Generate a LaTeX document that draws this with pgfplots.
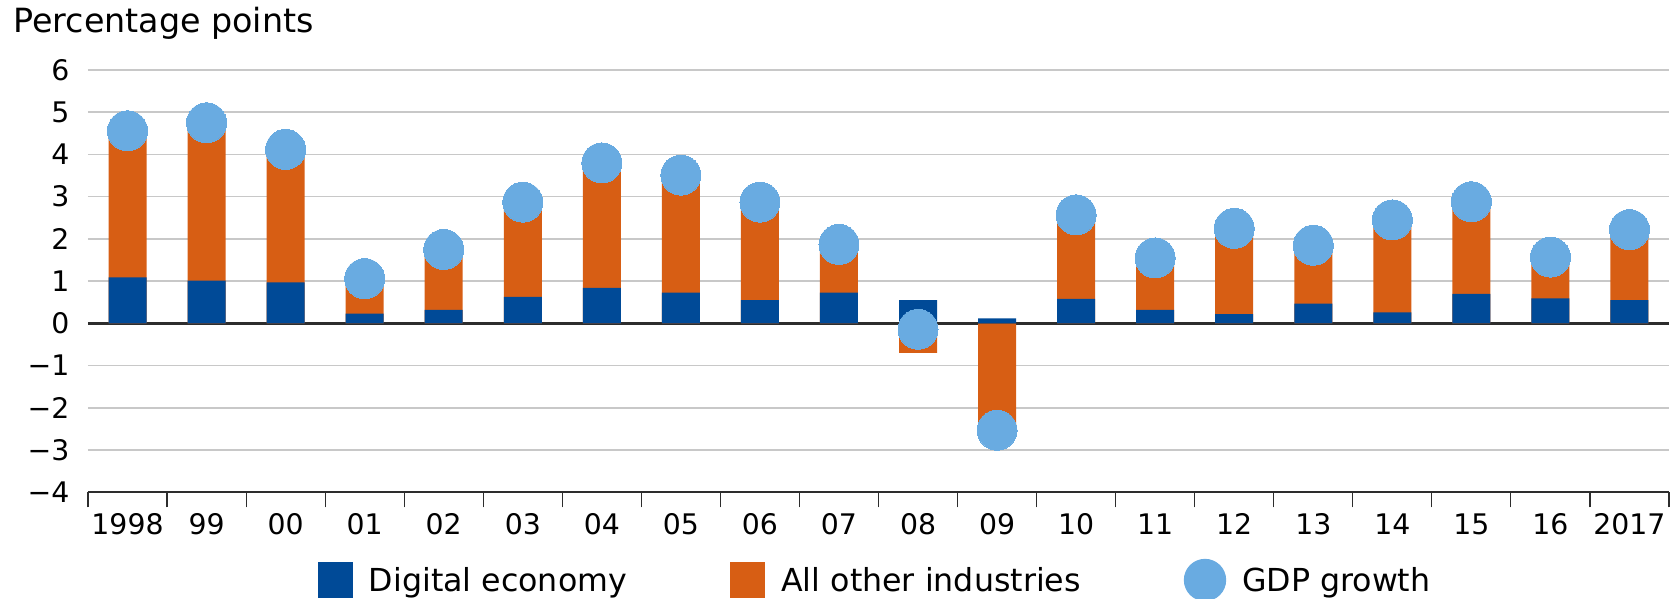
\documentclass[border=0pt]{standalone}
\usepackage{fontspec}
\setmainfont{DejaVu Sans}
\usepackage{pgfplots}
\usepackage{pgfplotstable}
\pgfplotsset{compat=1.18}
\definecolor{digblue}{RGB}{0,74,151}
\definecolor{othorange}{RGB}{215,94,20}
\definecolor{gdpblue}{RGB}{105,171,225}
\definecolor{gridgray}{RGB}{200,200,200}
\definecolor{axisdark}{RGB}{45,45,45}
\pgfplotstableread{
x dig oth gdp
0 1.09 3.47 4.56
1 1.01 3.74 4.75
2 0.97 3.15 4.12
3 0.23 0.83 1.06
4 0.32 1.43 1.75
5 0.63 2.24 2.87
6 0.84 2.96 3.80
7 0.73 2.78 3.51
8 0.55 2.32 2.87
9 0.73 1.14 1.87
10 0.55 -0.70 -0.14
11 0.12 -2.65 -2.53
12 0.58 1.99 2.57
13 0.32 1.23 1.55
14 0.22 2.03 2.25
15 0.47 1.38 1.85
16 0.26 2.19 2.45
17 0.70 2.18 2.88
18 0.59 0.98 1.57
19 0.55 1.67 2.22
}\datatable
\begin{document}
\begin{tikzpicture}
\useasboundingbox (0,0) rectangle (503.1pt,179.4pt);
\begin{axis}[
  at={(26.4pt,31.71pt)}, anchor=south west,
  scale only axis, width=474.3pt, height=126.69pt,
  xmin=-0.5, xmax=19.5, ymin=-4, ymax=6,
  axis line style={draw=none},
  ytick={-4,-3,...,6},
  yticklabels={−4,−3,−2,−1,0,1,2,3,4,5,6},
  ymajorgrids,
  grid style={draw=gridgray, line width=0.45pt},
  extra y ticks={-4,0},
  extra y tick labels={},
  extra y tick style={grid style={draw=axisdark, line width=0.7pt}},
  xtick={0,1,...,19},
  xticklabels={1998,99,00,01,02,03,04,05,06,07,08,09,10,11,12,13,14,15,16,2017},
  minor xtick={-0.5,0.5,...,19.5},
  xtick pos=bottom, ytick pos=left,
  major tick length=0pt, minor tick length=4.5pt, tick align=outside,
  minor tick style={draw=axisdark, line width=0.35pt},
  tick label style={font=\fontsize{8.5}{10}\selectfont},
  xticklabel style={anchor=base, inner sep=0pt, yshift=-12.8pt},
  yticklabel style={anchor=east, inner sep=0pt, xshift=-5.4pt},
  legend columns=3,
  legend style={at={(0.1448,-0.2077)}, anchor=west, draw=none, fill=none,
    inner sep=0pt, font=\fontsize{9.5}{11}\selectfont,
    /tikz/every odd column/.append style={column sep=4.8pt},
    /tikz/every even column/.append style={column sep=30.9pt},
    nodes={inner sep=0pt, anchor=base west}},
  clip=false,
]
\addlegendimage{legend image code/.code={\fill[digblue] (0pt,-1.64pt) rectangle (10.2pt,8.56pt);}}
\addlegendentry{Digital economy}
\addlegendimage{legend image code/.code={\fill[othorange] (0pt,-1.64pt) rectangle (10.2pt,8.56pt);}}
\addlegendentry{All other industries}
\addlegendimage{legend image code/.code={\fill[gdpblue] (6.15pt,3.46pt) circle (6.15pt);}}
\addlegendentry{GDP growth}

\addplot[ybar, bar width=11.4pt, bar shift=0pt, fill=othorange, draw=none, forget plot]
  table[x=x, y expr={\thisrow{oth}>0 ? \thisrow{oth}+\thisrow{dig} : \thisrow{oth}}] {\datatable};
\addplot[ybar, bar width=11.4pt, bar shift=0pt, fill=digblue, draw=none, forget plot]
  table[x=x, y=dig] {\datatable};
\addplot[only marks, color=gdpblue, mark=*, mark size=6pt, mark options={fill=gdpblue, draw=gdpblue, line width=0pt}, forget plot]
  table[x=x, y=gdp] {\datatable};
\end{axis}
\node[anchor=base west, inner sep=0pt, font=\fontsize{10}{12}\selectfont] at (3.8pt,169.7pt) {Percentage points};
\end{tikzpicture}
\end{document}
